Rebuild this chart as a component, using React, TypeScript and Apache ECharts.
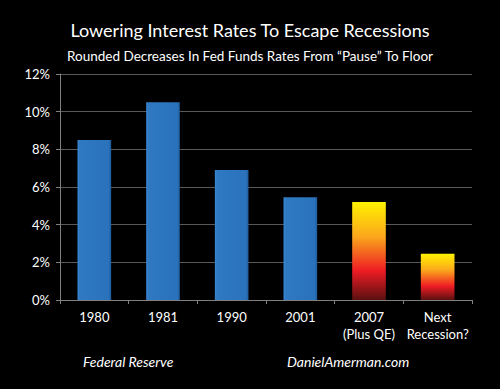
import React, { useEffect, useRef } from "react";
import * as echarts from "echarts";

const categories = ["1980", "1981", "1990", "2001", "2007\n(Plus QE)", "Next\nRecession?"];
const values = [8.5, 10.5, 6.9, 5.45, 5.2, 2.45];
const hotBars = [false, false, false, false, true, true];
const yTicks = [0, 2, 4, 6, 8, 10, 12];

const FONT = "Lato, 'Open Sans', sans-serif";

export default function App() {
  const ref = useRef<HTMLDivElement>(null);
  useEffect(() => {
    if (!ref.current) return;
    const chart = echarts.init(ref.current, undefined, { renderer: "svg" });
    const blue = new echarts.graphic.LinearGradient(0, 0, 1, 0, [
      { offset: 0, color: "#3a86d0" },
      { offset: 0.08, color: "#2f78c2" },
      { offset: 0.92, color: "#2a72bc" },
      { offset: 1, color: "#1f5c9c" },
    ]);
    const hot = new echarts.graphic.LinearGradient(0, 0, 0, 1, [
      { offset: 0, color: "#fff200" },
      { offset: 0.35, color: "#fba81c" },
      { offset: 0.7, color: "#ee1c24" },
      { offset: 1, color: "#5a1010" },
    ]);
    chart.setOption({
      animation: false,
      backgroundColor: "#000000",
      title: [
        {
          text: "Lowering Interest Rates To Escape Recessions",
          left: "center",
          top: 16,
          textStyle: { color: "#ffffff", fontSize: 18, fontWeight: "normal", fontFamily: FONT },
        },
        {
          text: "Rounded Decreases In Fed Funds Rates From \u201cPause\u201d To Floor",
          left: "center",
          top: 44,
          textStyle: { color: "#ffffff", fontSize: 13.5, fontWeight: "normal", fontFamily: FONT },
        },
      ],
      grid: { left: 60, right: 28, top: 74, bottom: 89, containLabel: false },
      xAxis: {
        type: "category",
        data: categories,
        axisLine: { lineStyle: { color: "#808080", width: 1 } },
        axisTick: { show: true, length: 4, inside: false, lineStyle: { color: "#808080" } },
        axisLabel: { color: "#ffffff", fontSize: 13, fontFamily: FONT, margin: 8, lineHeight: 17, interval: 0 },
      },
      yAxis: {
        type: "value",
        min: yTicks[0],
        max: yTicks[yTicks.length - 1],
        interval: 2,
        axisLine: { show: true, lineStyle: { color: "#808080" } },
        axisTick: { show: true, length: 4, lineStyle: { color: "#808080" } },
        splitLine: { lineStyle: { color: "#595959", width: 1 } },
        axisLabel: { color: "#ffffff", fontSize: 13, fontFamily: FONT, margin: 10, formatter: "{value}%" },
      },
      series: [
        {
          type: "bar",
          barWidth: "49%",
          data: values.map((v, i) => ({
            value: v,
            itemStyle: hotBars[i]
              ? { color: hot, borderWidth: 0 }
              : { color: blue, borderColor: "#5aa0e0", borderWidth: 0 },
          })),
        },
      ],
      graphic: [
        {
          type: "text",
          left: 83,
          top: 354,
          style: { text: "Federal Reserve", fill: "#ffffff", font: `italic 14px ${FONT}` },
        },
        {
          type: "text",
          left: 287,
          top: 354,
          style: { text: "DanielAmerman.com", fill: "#ffffff", font: `italic 14px ${FONT}` },
        },
      ],
    });
    return () => chart.dispose();
  }, []);
  return <div ref={ref} style={{ width: 500, height: 389, position: "absolute", left: 0, top: 0 }} />;
}
